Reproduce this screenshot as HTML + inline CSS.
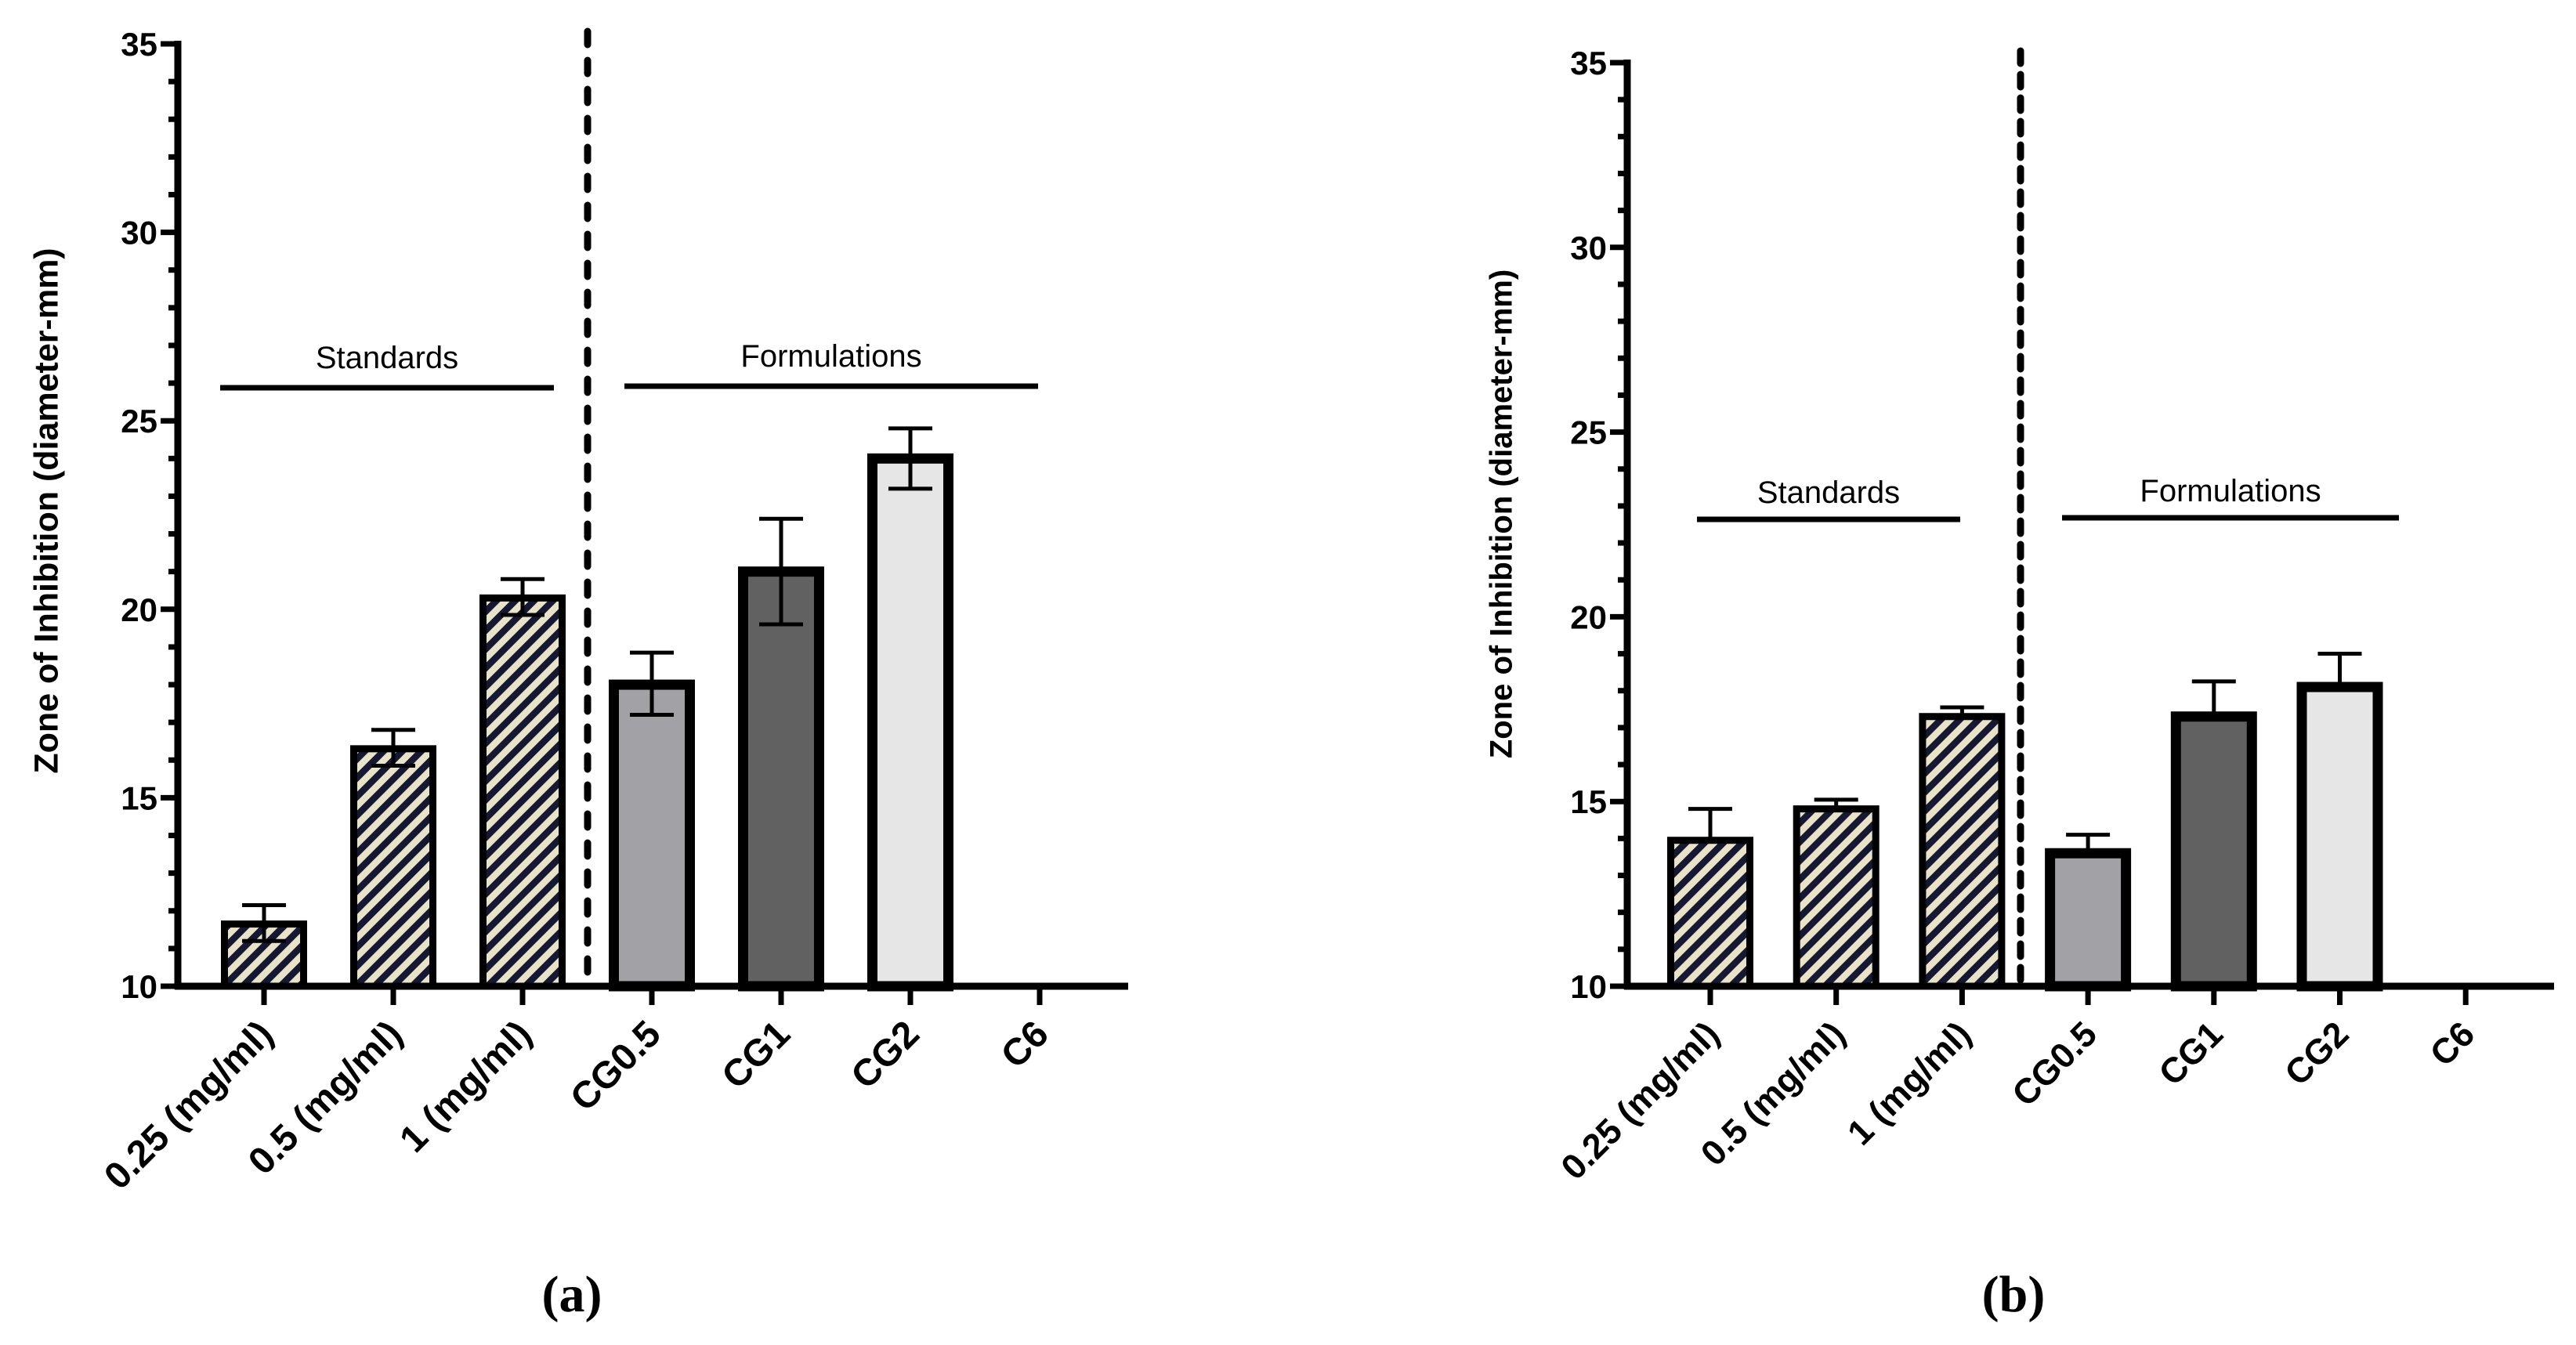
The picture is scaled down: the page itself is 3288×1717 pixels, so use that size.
<!DOCTYPE html>
<html>
<head>
<meta charset="utf-8">
<style>
  html,body{margin:0;padding:0;background:#fff;}
  svg{display:block;}
</style>
</head>
<body>
<svg id="fig" xmlns="http://www.w3.org/2000/svg" width="3288" height="1717" viewBox="0 0 3288 1717">
  <defs>
    <pattern id="hatch" patternUnits="userSpaceOnUse" width="17" height="17" patternTransform="rotate(45)">
      <rect width="17" height="17" fill="#e8e3c6"/>
      <rect width="8.5" height="17" fill="#141833"/>
    </pattern>
  </defs>
  <g id="panelA"></g>
  <g id="panelB"></g>
  <text x="730" y="1674" text-anchor="middle" font-family="Liberation Serif, serif" font-size="66" font-weight="bold">(a)</text>
  <text x="2570" y="1674" text-anchor="middle" font-family="Liberation Serif, serif" font-size="66" font-weight="bold">(b)</text>
</svg>
<script>
const categories = ["0.25 (mg/ml)", "0.5 (mg/ml)", "1 (mg/ml)", "CG0.5", "CG1", "CG2", "C6"];
const valuesA = [11.65, 16.3, 20.3, 18.0, 21.0, 24.0, null];
const errHiA = [12.15, 16.8, 20.8, 18.85, 22.4, 24.8, null];
const errLoA = [11.2, 15.85, 19.85, 17.2, 19.6, 23.2, null];
const valuesB = [13.95, 14.8, 17.3, 13.6, 17.3, 18.1, null];
const errHiB = [14.8, 15.05, 17.55, 14.1, 18.25, 19.0, null];
const errLoB = [null, null, null, null, null, null, null];
const yTicks = [10, 15, 20, 25, 30, 35];
const fills = ["url(#hatch)", "url(#hatch)", "url(#hatch)", "#a2a1a6", "#616161", "#e6e6e6", "none"];

const NS = "http://www.w3.org/2000/svg";
function mk(parent, tag, attrs, text) {
  const e = document.createElementNS(NS, tag);
  for (const k in attrs) e.setAttribute(k, attrs[k]);
  if (text !== undefined) e.textContent = text;
  parent.appendChild(e);
  return e;
}

function drawPanel(g, cfg, values, hi, lo, tag) {
  const y = v => cfg.y10 - (v - 10) * (cfg.y10 - cfg.y35) / 25;
  const x = i => cfg.x0 + i * cfg.step;

  values.forEach((v, i) => {
    if (v === null) return;
    const sw = i < 3 ? 9 : 13;
    const w = 110 - sw;
    const r = mk(g, "rect", {x: x(i) - w / 2, y: y(v), width: w, height: cfg.y10 - y(v), fill: fills[i], stroke: "#000", "stroke-width": sw});
    
    
  });
  values.forEach((v, i) => {
    if (v === null) return;
    const top = hi[i], bot = lo[i] === null ? v : lo[i];
    const eg = mk(g, "g", {stroke: "#000", "stroke-width": 5});
    
    
    mk(eg, "line", {x1: x(i), x2: x(i), y1: y(top), y2: y(bot)});
    mk(eg, "line", {x1: x(i) - 28, x2: x(i) + 28, y1: y(top), y2: y(top)});
    if (lo[i] !== null) mk(eg, "line", {x1: x(i) - 28, x2: x(i) + 28, y1: y(bot), y2: y(bot)});
  });

  const d = mk(g, "line", {x1: cfg.dashX, x2: cfg.dashX, y1: cfg.dashTop, y2: cfg.y10, stroke: "#000", "stroke-width": 9, "stroke-dasharray": cfg.dash, "stroke-linecap": "round"});
  
  

  const ya = mk(g, "line", {x1: cfg.ax, x2: cfg.ax, y1: cfg.y35 - 4, y2: cfg.y10 + 4, stroke: "#000", "stroke-width": 9});
  
  
  const xa = mk(g, "line", {x1: cfg.ax - 4, x2: cfg.xEnd, y1: cfg.y10, y2: cfg.y10, stroke: "#000", "stroke-width": 9});
  
  

  for (let v = 10; v <= 35; v++) {
    const major = v % 5 === 0;
    mk(g, "line", {x1: cfg.ax - (major ? 22 : 12), x2: cfg.ax, y1: y(v), y2: y(v), stroke: "#000", "stroke-width": 7});
  }
  yTicks.forEach(v => {
    const t = mk(g, "text", {x: cfg.ax - 26, y: y(v) + 15, "text-anchor": "end", "font-family": "Liberation Sans, sans-serif", "font-weight": "bold", "font-size": 42}, String(v));
    
    
  });
  categories.forEach((c, i) => {
    mk(g, "line", {x1: x(i), x2: x(i), y1: cfg.y10, y2: cfg.y10 + 24, stroke: "#000", "stroke-width": 7});
    const tx = x(i) + 14, ty = cfg.y10 + 64;
    const t = mk(g, "text", {x: tx, y: ty, "text-anchor": "end", transform: "rotate(-45 " + tx + " " + ty + ")", "font-family": "Liberation Sans, sans-serif", "font-weight": "bold", "font-size": cfg.xfs}, c);
    
    
  });

  const yt = mk(g, "text", {x: cfg.titleX, y: cfg.titleY, "text-anchor": "middle", transform: "rotate(-90 " + cfg.titleX + " " + cfg.titleY + ")", "font-family": "Liberation Sans, sans-serif", "font-weight": "bold", "font-size": cfg.titleFs, "dominant-baseline": "middle"}, "Zone of Inhibition (diameter-mm)");
  
  

  cfg.groups.forEach(gr => {
    const l = mk(g, "line", {x1: gr.x1, x2: gr.x2, y1: gr.ly, y2: gr.ly, stroke: "#000", "stroke-width": 7});
    
    
    const t = mk(g, "text", {x: (gr.x1 + gr.x2) / 2, y: gr.ty, "text-anchor": "middle", "font-family": "Liberation Sans, sans-serif", "font-size": 40}, gr.label);
    
    
  });
}

drawPanel(document.getElementById("panelA"), {
  ax: 227, y10: 1259, y35: 56, x0: 337, step: 165, xEnd: 1440,
  dashX: 750, dashTop: 40, dash: "17 20", xfs: 48,
  titleX: 62, titleY: 652, titleFs: 43,
  groups: [{label: "Standards", x1: 281, x2: 707, ly: 495, ty: 470},
           {label: "Formulations", x1: 797, x2: 1325, ly: 493, ty: 468}]
}, valuesA, errHiA, errLoA, "a");

drawPanel(document.getElementById("panelB"), {
  ax: 2077, y10: 1259, y35: 80, x0: 2183, step: 160.7, xEnd: 3260,
  dashX: 2579, dashTop: 65, dash: "16 14", xfs: 45,
  titleX: 1919, titleY: 656, titleFs: 40,
  groups: [{label: "Standards", x1: 2166, x2: 2502, ly: 663, ty: 642},
           {label: "Formulations", x1: 2632, x2: 3062, ly: 661, ty: 640}]
}, valuesB, errHiB, errLoB, "b");
</script>
</body>
</html>
